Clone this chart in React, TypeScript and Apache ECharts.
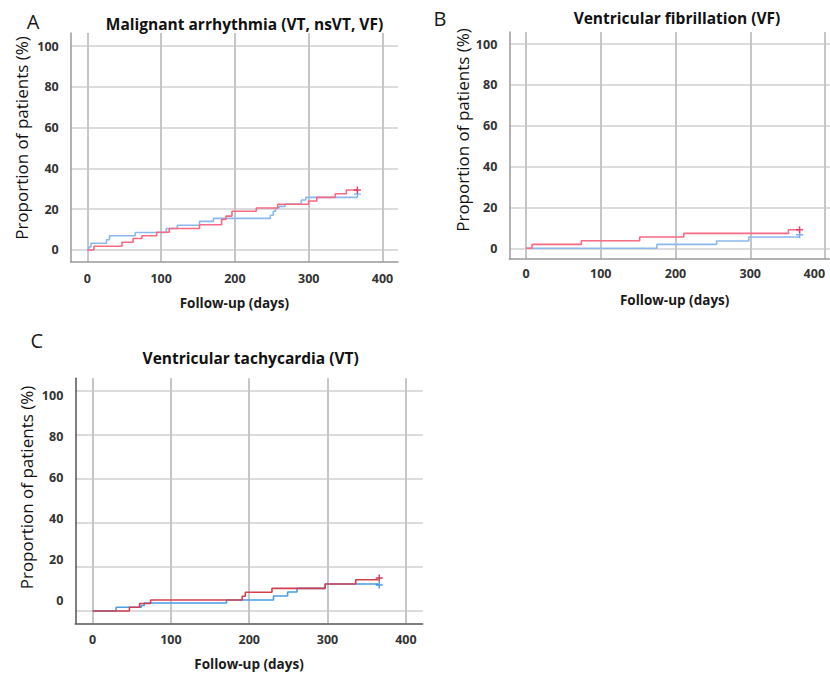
import React, { useEffect, useRef } from "react";
import * as echarts from "echarts";

// ---------- data ----------
const xTicks = [0, 100, 200, 300, 400];
const yTicks = [0, 20, 40, 60, 80, 100];

const panelTitles = [
  "Malignant arrhythmia (VT, nsVT, VF)",
  "Ventricular fibrillation (VF)",
  "Ventricular tachycardia (VT)",
];
const panelLetters = ["A", "B", "C"];
const xAxisTitle = "Follow-up (days)";
const yAxisTitle = "Proportion of patients (%)";

// Panel A – malignant arrhythmia
const aRedDays = [0, 9, 47, 62, 74, 94, 111, 152, 182, 188, 196, 229, 258, 300, 311, 336, 351, 366];
const aRedPct = [0, 1.8, 3.8, 5.6, 7.0, 8.7, 10.5, 12.4, 15.0, 16.6, 19.0, 20.6, 22.4, 24.0, 25.8, 27.6, 29.4, 29.4];
const aBlueDays = [0, 2, 5, 26, 30, 65, 107, 122, 152, 171, 248, 252, 255, 260, 268, 290, 296, 366];
const aBluePct = [0, 1.5, 3.3, 5.0, 7.0, 8.6, 10.5, 12.1, 14.0, 15.5, 17.0, 19.0, 20.6, 21.4, 22.5, 24.5, 25.8, 25.8];
const aCensor = { red: 29.4, blue: 27.4 };

// Panel B – ventricular fibrillation
const bRedDays = [0, 8, 74, 152, 211, 351, 366];
const bRedPct = [0, 1.9, 3.7, 5.5, 7.3, 9.1, 9.1];
const bBlueDays = [0, 175, 255, 298, 366];
const bBluePct = [0, 1.9, 3.6, 5.5, 5.5];
const bCensor = { red: 9.1, blue: 6.6 };

// Panel C – ventricular tachycardia
const cRedDays = [0, 47, 60, 74, 191, 195, 229, 297, 336, 365];
const cRedPct = [0, 1.7, 3.4, 5.0, 6.7, 8.5, 10.3, 12.3, 14.2, 14.2];
const cBlueDays = [0, 30, 62, 66, 171, 231, 249, 261, 297, 365];
const cBluePct = [0, 1.7, 2.5, 3.6, 5.0, 6.8, 8.6, 10.3, 12.3, 12.3];
const cCensor = { red: 15.0, blue: 11.8 };

const censorDay = 366;

// ---------- styling ----------
const FONT = '"Open Sans", "Noto Sans", sans-serif';
const PLUS = "path://M4,0H6V4H10V6H6V10H4V6H0V4H4Z";

const pairs = (d: number[], v: number[]) => d.map((x, i) => [x, v[i]]);

export default function App() {
  const ref = useRef<HTMLDivElement>(null);

  useEffect(() => {
    if (!ref.current) return;
    const chart = echarts.init(ref.current, undefined, { renderer: "svg" });

    const grids = [
      { left: 70.7, top: 33, width: 327.3, height: 229 },
      { left: 509.3, top: 32, width: 330.7, height: 227 },
      { left: 75.3, top: 378.3, width: 347.4, height: 245 },
    ].map((g) => ({ ...g, containLabel: false, outerBoundsMode: "none" }));

    const xRanges = [
      [-22.5, 421],
      [-22.4, 420],
      [-22.1, 421.5],
    ];
    const yRanges = [
      [-5.9, 106.4],
      [-5.24, 105.9],
      [-5.6, 105.8],
    ];
    const axisColors = ["#9a9a9a", "#9a9a9a", "#555555"];
    const xLabelMargins = [10, 8, 10];
    const xNameGaps = [34, 34, 34];

    const labelStyle = {
      fontFamily: FONT,
      fontWeight: "bold" as const,
      fontSize: 12.5,
      color: "#333333",
    };

    const xAxis = [0, 1, 2].map((i) => ({
      gridIndex: i,
      type: "value",
      min: xRanges[i][0],
      max: xRanges[i][1],
      name: xAxisTitle,
      nameLocation: "middle",
      nameGap: xNameGaps[i],
      nameTextStyle: { fontFamily: FONT, fontWeight: "bold", fontSize: 13.5, color: "#1a1a1a" },
      axisLine: { show: true, onZero: false, lineStyle: { color: axisColors[i], width: 1.5 } },
      axisTick: { show: false, customValues: xTicks },
      axisLabel: {
        ...labelStyle,
        margin: xLabelMargins[i],
        customValues: xTicks,
        ...(i === 1 ? { alignMaxLabel: "right" } : {}),
      },
      splitLine: { show: true, lineStyle: { color: "#c6c6c6", width: 2 } },
    }));

    const yAxis: any[] = [0, 1, 2].map((i) => ({
      gridIndex: i,
      type: "value",
      min: yRanges[i][0],
      max: yRanges[i][1],
      axisLine: { show: true, onZero: false, lineStyle: { color: axisColors[i], width: 1.5 } },
      axisTick: { show: false, customValues: yTicks },
      axisLabel: { ...labelStyle, show: i !== 2, margin: 12, customValues: yTicks },
      splitLine: { show: true, lineStyle: { color: "#d0d0d0", width: 1.5 } },
    }));
    // Panel C's printed tick labels sit slightly off their gridlines
    yAxis.push({
      gridIndex: 2,
      type: "value",
      position: "left",
      min: -10.88,
      max: 108.63,
      axisLine: { show: false },
      axisTick: { show: false, customValues: yTicks },
      axisLabel: { ...labelStyle, margin: 12, customValues: yTicks },
      splitLine: { show: false },
    });

    const palettes = [
      { red: "#f66a84", blue: "#8cb8ee", redMark: "#ee1c4a", blueMark: "#5b9be6" },
      { red: "#f66a84", blue: "#8cb8ee", redMark: "#ee1c4a", blueMark: "#5b9be6" },
      { red: "#d2404f", blue: "#4a9de6", redMark: "#b80e2a", blueMark: "#1e7fe0" },
    ];
    const panelData = [
      { red: pairs(aRedDays, aRedPct), blue: pairs(aBlueDays, aBluePct), censor: aCensor },
      { red: pairs(bRedDays, bRedPct), blue: pairs(bBlueDays, bBluePct), censor: bCensor },
      { red: pairs(cRedDays, cRedPct), blue: pairs(cBlueDays, cBluePct), censor: cCensor },
    ];

    const series: any[] = [];
    panelData.forEach((p, i) => {
      const pal = palettes[i];
      series.push({
        type: "line",
        name: `blue-${i}`,
        xAxisIndex: i,
        yAxisIndex: i,
        step: "end",
        showSymbol: false,
        data: p.blue,
        lineStyle: { color: pal.blue, width: 1.6 },
        itemStyle: { color: pal.blue },
        z: 3,
      });
      series.push({
        type: "line",
        name: `red-${i}`,
        xAxisIndex: i,
        yAxisIndex: i,
        step: "end",
        showSymbol: false,
        data: p.red,
        lineStyle: { color: pal.red, width: 1.6 },
        itemStyle: { color: pal.red },
        z: 4,
      });
      series.push({
        type: "scatter",
        xAxisIndex: i,
        yAxisIndex: i,
        symbol: PLUS,
        symbolSize: 7,
        data: [
          { value: [censorDay, p.censor.blue], itemStyle: { color: pal.blueMark } },
          { value: [censorDay, p.censor.red], itemStyle: { color: pal.redMark } },
        ],
        z: 5,
      });
    });

    const letterPos = [
      [33, 21],
      [440, 18],
      [36.7, 340],
    ];
    const titlePos = [
      [244.5, 24],
      [677, 18],
      [250.7, 358],
    ];
    const yNamePos = [
      [21.7, 138],
      [462.7, 130],
      [26.7, 487.5],
    ];

    const graphic: any[] = [];
    [0, 1, 2].forEach((i) => {
      graphic.push({
        type: "text",
        x: letterPos[i][0],
        y: letterPos[i][1],
        style: {
          text: panelLetters[i],
          font: `20px ${FONT}`,
          fill: "#1a1a1a",
          align: "center",
          textAlign: "center",
          verticalAlign: "middle",
          textVerticalAlign: "middle",
        },
      });
      graphic.push({
        type: "text",
        x: titlePos[i][0],
        y: titlePos[i][1],
        style: {
          text: panelTitles[i],
          font: `bold 15.5px ${FONT}`,
          fill: "#111111",
          align: "center",
          textAlign: "center",
          verticalAlign: "middle",
          textVerticalAlign: "middle",
        },
      });
      graphic.push({
        type: "text",
        x: yNamePos[i][0],
        y: yNamePos[i][1],
        rotation: Math.PI / 2,
        style: {
          text: yAxisTitle,
          font: `17px ${FONT}`,
          fill: "#111111",
          align: "center",
          textAlign: "center",
          verticalAlign: "middle",
          textVerticalAlign: "middle",
        },
      });
    });

    chart.setOption({
      animation: false,
      backgroundColor: "#ffffff",
      grid: grids,
      xAxis,
      yAxis,
      series,
      graphic,
    });

    return () => chart.dispose();
  }, []);

  return (
    <div
      ref={ref}
      style={{ position: "fixed", left: 0, top: 0, width: 830, height: 674, background: "#fff" }}
    />
  );
}
